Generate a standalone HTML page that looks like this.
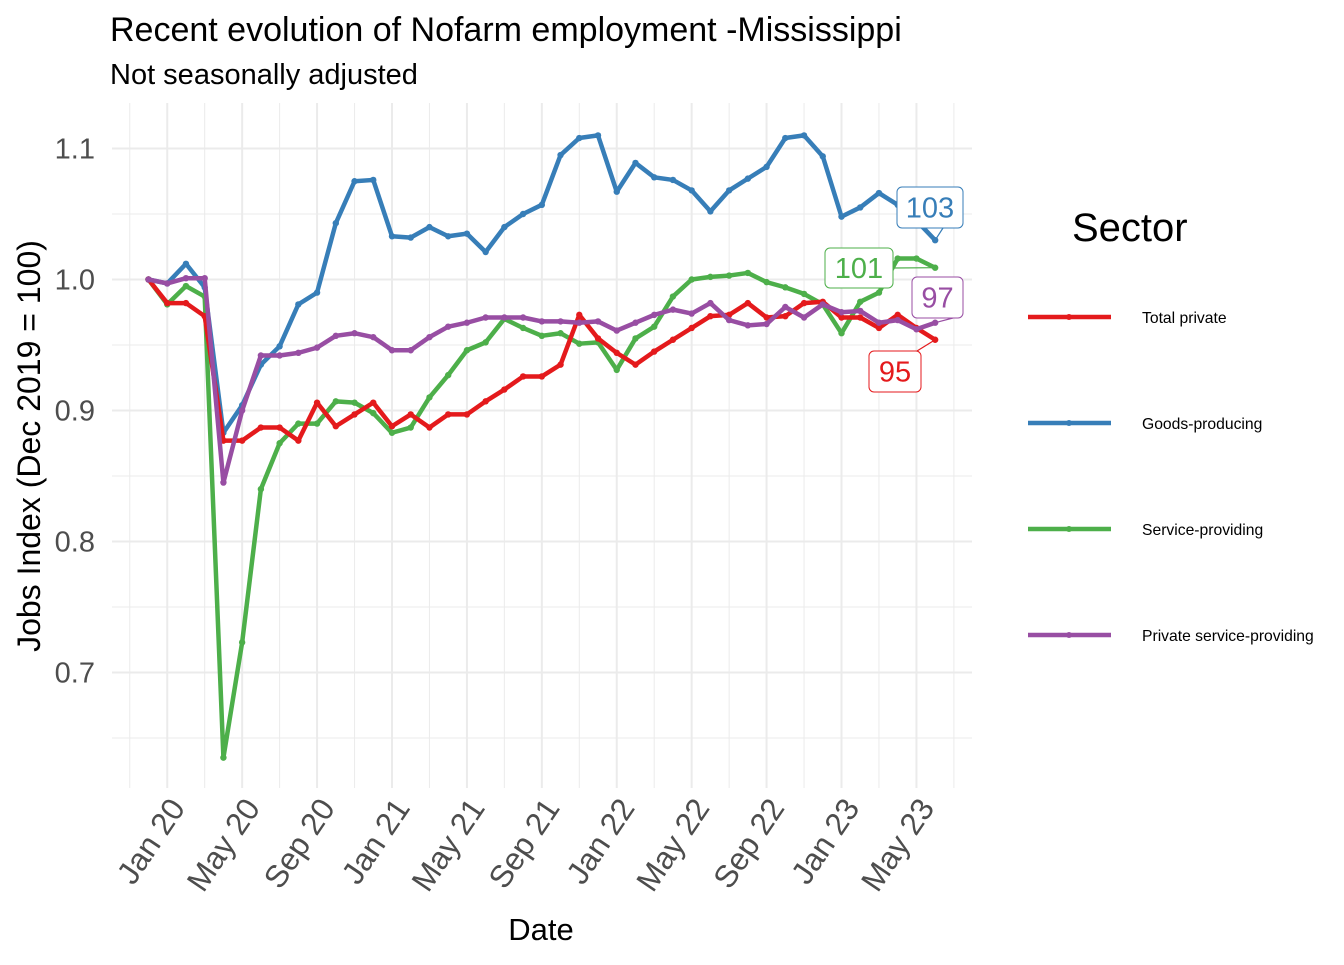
<!DOCTYPE html>
<html><head><meta charset="utf-8"><style>
html,body{margin:0;padding:0;background:#fff;}
svg text{font-family:"Liberation Sans",Arial,sans-serif;}
</style></head><body>
<svg id="chart" width="1344" height="960" xmlns="http://www.w3.org/2000/svg">
<text x="110" y="41" font-size="34" fill="#000">Recent evolution of Nofarm employment -Mississippi</text>
<text x="110" y="84" font-size="29" fill="#000">Not seasonally adjusted</text>
<g id="grid"></g>
<g id="series"></g>
<g id="labels"></g>
<g id="axes"></g>
<text x="541" y="940" font-size="31" text-anchor="middle" fill="#000">Date</text>
<text transform="translate(40,446) rotate(-90)" font-size="32" text-anchor="middle" fill="#000">Jobs Index (Dec 2019 = 100)</text>
<g id="legend">
<text x="1072" y="241" font-size="40" fill="#000">Sector</text>
</g>
</svg>
<script>
const seriesNames = ["Total private","Goods-producing","Service-providing","Private service-providing"];
const colors = ["#E41A1C","#377EB8","#4DAF4A","#984EA3"];
const totalPrivate = [1.000,0.982,0.982,0.972,0.877,0.877,0.887,0.887,0.877,0.906,0.888,0.897,0.906,0.888,0.897,0.887,0.897,0.897,0.907,0.916,0.926,0.926,0.935,0.973,0.955,0.944,0.935,0.945,0.954,0.963,0.972,0.973,0.982,0.971,0.972,0.982,0.983,0.971,0.971,0.963,0.973,0.963,0.954];
const goodsProducing = [1.000,0.997,1.012,0.994,0.883,0.904,0.935,0.949,0.981,0.990,1.043,1.075,1.076,1.033,1.032,1.040,1.033,1.035,1.021,1.040,1.050,1.057,1.095,1.108,1.110,1.067,1.089,1.078,1.076,1.068,1.052,1.068,1.077,1.086,1.108,1.110,1.094,1.048,1.055,1.066,1.057,1.045,1.030];
const serviceProviding = [1.000,0.981,0.995,0.987,0.635,0.723,0.840,0.875,0.890,0.890,0.907,0.906,0.898,0.883,0.887,0.910,0.927,0.946,0.952,0.970,0.963,0.957,0.959,0.951,0.952,0.931,0.955,0.964,0.987,1.000,1.002,1.003,1.005,0.998,0.994,0.989,0.981,0.959,0.983,0.990,1.016,1.016,1.009];
const privateService = [1.000,0.997,1.001,1.001,0.845,0.900,0.942,0.942,0.944,0.948,0.957,0.959,0.956,0.946,0.946,0.956,0.964,0.967,0.971,0.971,0.971,0.968,0.968,0.967,0.968,0.961,0.967,0.973,0.977,0.974,0.982,0.969,0.965,0.966,0.979,0.971,0.981,0.975,0.976,0.967,0.969,0.962,0.967];
const yTicks = [0.7,0.8,0.9,1.0,1.1];
const yTickLabels = ["0.7","0.8","0.9","1.0","1.1"];
const xTickIdx = [1,5,9,13,17,21,25,29,33,37,41];
const xTickLabels = ["Jan 20","May 20","Sep 20","Jan 21","May 21","Sep 21","Jan 22","May 22","Sep 22","Jan 23","May 23"];
const endLabels = ["95","103","101","97"];

const NS="http://www.w3.org/2000/svg";
const X0=148.5, DX=18.73;
const xs = i => X0 + DX*i;
const ys = v => 279.5 - (v-1.0)*1310;
const PL=112, PR=972, PT=103, PB=788;
function mk(tag, attrs, parent){const e=document.createElementNS(NS,tag);for(const k in attrs)e.setAttribute(k,attrs[k]);parent.appendChild(e);return e;}

const grid=document.getElementById('grid');
for(let v=0.65; v<1.16; v+=0.05){
  const y=ys(v); if(y<PT||y>PB) continue;
  const major=Math.abs(Math.round(v*10)-v*10)<1e-6;
  const l=mk('line',{x1:PL,x2:PR,y1:y,y2:y,stroke:'#ebebeb','stroke-width':major?2:1},grid);
  
  
}
for(let i=-1;i<=43;i+=2){
  const x=xs(i); if(x<PL||x>PR) continue;
  const major=xTickIdx.includes(i);
  const l=mk('line',{x1:x,x2:x,y1:PT,y2:PB,stroke:'#ebebeb','stroke-width':major?2:1},grid);
  
  
}
const axes=document.getElementById('axes');
yTicks.forEach((v,k)=>{
  const t=mk('text',{x:95,y:ys(v)+10,'font-size':29,'text-anchor':'end',fill:'#4d4d4d'},axes);
  t.textContent=yTickLabels[k];
  
  
});
xTickIdx.forEach((i,k)=>{
  const x=xs(i);
  const t=mk('text',{transform:`translate(${x+19},808) rotate(-56)`,'font-size':31.5,'text-anchor':'end',fill:'#4d4d4d'},axes);
  t.textContent=xTickLabels[k];
  
  
});

const data=[totalPrivate,goodsProducing,serviceProviding,privateService];
const sg=document.getElementById('series');
const order=[1,2,0,3];
order.forEach(s=>{
  const arr=data[s];
  const g=mk('g',{},sg);
  
  
  const p=mk('polyline',{points:arr.map((v,i)=>xs(i)+','+ys(v)).join(' '),fill:'none',stroke:colors[s],'stroke-width':4.5,'stroke-linejoin':'round'},g);
  
  
  arr.forEach((v,i)=>{
    const c=mk('circle',{cx:xs(i),cy:ys(v),r:3.2,fill:colors[s]},g);
    
    
  });
});

const lab=document.getElementById('labels');
const boxes=[[869,351,52,41],[897,187,66,41],[825,248,68,40],[912,277,51,41]];
const last=42;
boxes.forEach((b,s)=>{
  const px=xs(last), py=ys(data[s][last]);
  let lx=b[0]+b[2], ly=b[1]+b[3]/2;
  if(s===0){lx=b[0]+b[2]-4; ly=b[1];}
  if(s===1){lx=b[0]+b[2]-20; ly=b[1]+b[3];}
  if(s===3){lx=b[0]+b[2]-10; ly=b[1]+b[3];}
  const seg=mk('line',{x1:lx,y1:ly,x2:px,y2:py,stroke:colors[s],'stroke-width':1.2},lab);
  
  
  const r=mk('rect',{x:b[0],y:b[1],width:b[2],height:b[3],rx:5,fill:'#fff',stroke:colors[s],'stroke-width':1},lab);
  
  
  const t=mk('text',{x:b[0]+b[2]/2,y:b[1]+b[3]/2+10,'font-size':29,'text-anchor':'middle',fill:colors[s]},lab);
  t.textContent=endLabels[s];
  
  
});

const leg=document.getElementById('legend');
seriesNames.forEach((n,s)=>{
  const y=317+106*s;
  const l=mk('line',{x1:1028,x2:1111,y1:y,y2:y,stroke:colors[s],'stroke-width':4.5},leg);
  
  
  const c=mk('circle',{cx:1069,cy:y,r:3,fill:colors[s]},leg);
  
  
  const t=mk('text',{x:1142,y:y+6,'font-size':15.7,fill:'#000'},leg);
  t.textContent=n;
  
  
});
</script>
</body></html>
